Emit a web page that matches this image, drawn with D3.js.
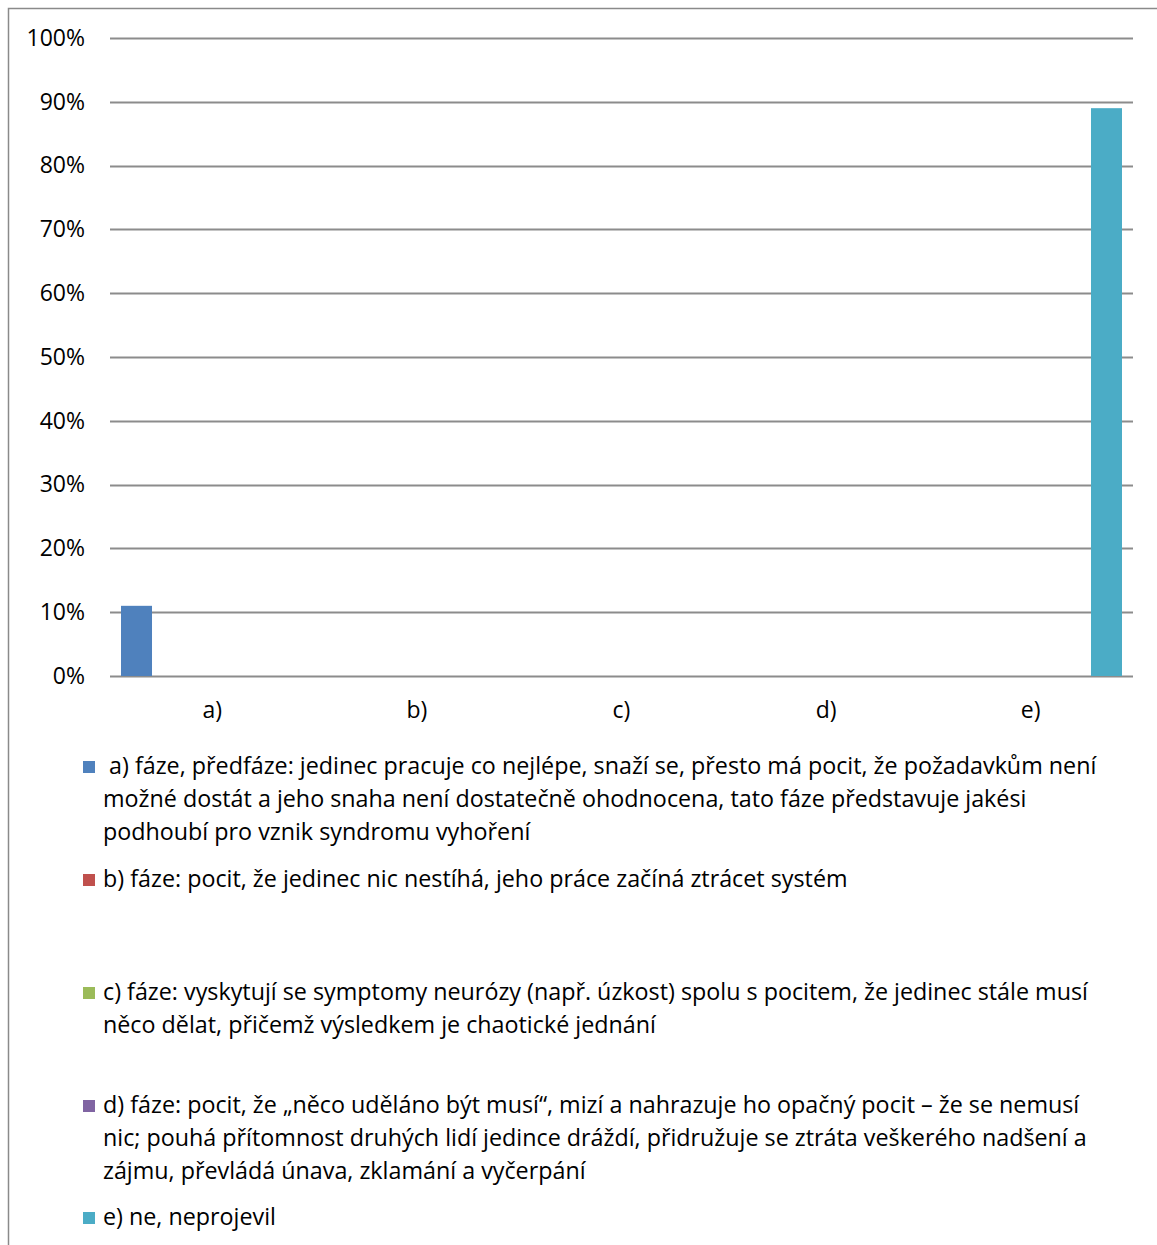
<!DOCTYPE html>
<html>
<head>
<meta charset="utf-8">
<script src="https://cdn.jsdelivr.net/npm/d3@7"></script>
<style>
  html, body { margin: 0; padding: 0; background: #fff; }
  svg { display: block; }
  text { font-family: "Open Sans", "Noto Sans", sans-serif; fill: #000; }
</style>
</head>
<body>
<svg id="chart" width="1157" height="1245"></svg>
<script>
// Categories (answer options) and one series per option
const categories = ["a)", "b)", "c)", "d)", "e)"];
const seriesKeys = ["a", "b", "c", "d", "e"];
const seriesColors = ["#4F81BD", "#C0504D", "#9BBB59", "#8064A2", "#4BACC6"];
// Share of respondents (fraction) — each series only has a value in its own category
const seriesValues = [0.11, 0, 0, 0, 0.89];
const yTicks = [0, 0.1, 0.2, 0.3, 0.4, 0.5, 0.6, 0.7, 0.8, 0.9, 1.0];

// Legend entries, already broken into lines
const legendLines = [
  [" a) fáze, předfáze: jedinec pracuje co nejlépe, snaží se, přesto má pocit, že požadavkům není",
   "možné dostát a jeho snaha není dostatečně ohodnocena, tato fáze představuje jakési",
   "podhoubí pro vznik syndromu vyhoření"],
  ["b) fáze: pocit, že jedinec nic nestíhá, jeho práce začíná ztrácet systém"],
  ["c) fáze: vyskytují se symptomy neurózy (např. úzkost) spolu s pocitem, že jedinec stále musí",
   "něco dělat, přičemž výsledkem je chaotické jednání"],
  ["d) fáze: pocit, že „něco uděláno být musí“, mizí a nahrazuje ho opačný pocit – že se nemusí",
   "nic; pouhá přítomnost druhých lidí jedince dráždí, přidružuje se ztráta veškerého nadšení a",
   "zájmu, převládá únava, zklamání a vyčerpání"],
  ["e) ne, neprojevil"]
];
const legendTops = [766, 879, 992, 1105, 1217];

const svg = d3.select("#chart");

// Chart frame (runs off the right and bottom edges)
svg.append("rect")
  .attr("x", 8.5).attr("y", 8.5)
  .attr("width", 1200).attr("height", 1300)
  .attr("fill", "none").attr("stroke", "#8a8a8a").attr("stroke-width", 1.5);

const plot = { left: 110, right: 1133, top: 38, bottom: 676 };

const x0 = d3.scaleBand().domain(categories).range([plot.left, plot.right]).padding(0);
const bw = x0.bandwidth();
const x1 = d3.scaleBand().domain(seriesKeys)
  .range([bw * 0.0538, bw * (1 - 0.0538)]).paddingInner(0.182).paddingOuter(0);
const y = d3.scaleLinear().domain([0, 1]).range([plot.bottom, plot.top]);

// Gridlines
svg.append("g").selectAll("line").data(yTicks).join("line")
  .attr("x1", plot.left).attr("x2", plot.right)
  .attr("y1", d => Math.round(y(d)) + 0.5).attr("y2", d => Math.round(y(d)) + 0.5)
  .attr("stroke", "#8c8c8c").attr("stroke-width", 2);

// Y axis labels
const yAxis = d3.axisLeft(y).tickValues(yTicks).tickFormat(d3.format(".0%")).tickSize(0).tickPadding(0);
const yg = svg.append("g").attr("transform", `translate(${85},0)`).call(yAxis);
yg.select(".domain").remove();
yg.selectAll("text").style("font-size", "23px").attr("font-family", null).attr("fill", "#000");

// X axis labels
const xAxis = d3.axisBottom(x0).tickSize(0).tickPadding(0);
const xg = svg.append("g").attr("transform", `translate(0,${plot.bottom + 26})`).call(xAxis);
xg.select(".domain").remove();
xg.selectAll("text").style("font-size", "23px").attr("font-family", null).attr("fill", "#000");

// Bars
const barData = [];
seriesKeys.forEach((k, i) => {
  barData.push({ cat: categories[i], key: k, value: seriesValues[i], color: seriesColors[i] });
});
svg.append("g").selectAll("rect").data(barData.filter(d => d.value > 0)).join("rect")
  .attr("x", d => x0(d.cat) + x1(d.key))
  .attr("width", x1.bandwidth())
  .attr("y", d => y(d.value))
  .attr("height", d => y(0) - y(d.value))
  .attr("fill", d => d.color);

// Legend
const lg = svg.append("g");
legendLines.forEach((lines, i) => {
  const top = legendTops[i];
  lg.append("rect")
    .attr("x", 83).attr("y", top - 5).attr("width", 12).attr("height", 12)
    .attr("fill", seriesColors[i]);
  lines.forEach((ln, j) => {
    lg.append("text")
      .attr("x", 103)
      .attr("y", top + j * 33)
      .attr("dy", "0.35em")
      .style("font-size", "23.3px")
      .attr("xml:space", "preserve")
      .style("white-space", "pre")
      .text(ln);
  });
});
</script>
</body>
</html>
